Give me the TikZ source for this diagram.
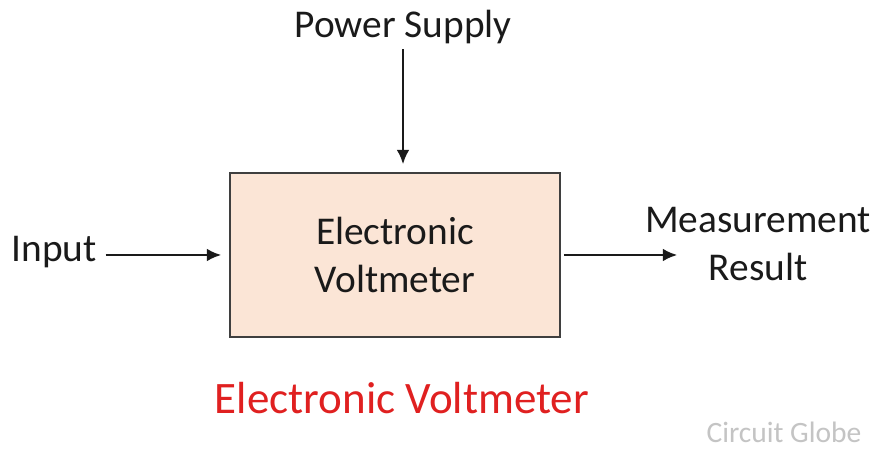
\documentclass[tikz,border=0pt]{standalone}
\usepackage{fontspec}
\setmainfont{Carlito}
\usepackage{tikz}
\usetikzlibrary{arrows.meta,positioning,calc}
\definecolor{boxfill}{HTML}{FBE5D6}
\definecolor{boxline}{HTML}{3F3F3F}
\definecolor{txt}{HTML}{1A1A1A}
\definecolor{titlered}{HTML}{E02020}
\definecolor{wmark}{HTML}{C4C4C4}
\tikzset{
  blockbox/.style={draw=boxline,fill=boxfill,line width=1.1pt,
                   minimum width=8.25cm,minimum height=4.1cm,
                   align=center,text=txt,font=\fontsize{28}{34}\selectfont},
  lbl/.style={text=txt,inner sep=2pt,align=center,
              font=\fontsize{28}{34}\selectfont},
  arrowmain/.style={-{Latex[length=3.6mm,width=3.2mm]},line width=1.6pt,txt},
}
\begin{document}
\begin{tikzpicture}
  \useasboundingbox[fill=white](0,0)rectangle(21.95,11.3);
  % Block
  \node[blockbox](vm)at(9.875,4.925){Electronic\\Voltmeter};
  % Labels
  \node[lbl](ps)at(10.075,10.62){Power Supply};
  \node[lbl](in)at(1.35,5.0){Input};
  \node[lbl](res)at(18.95,5.2){Measurement\\Result};
  \coordinate(outend)at(16.93,4.925);
  % Connectors
  \draw[arrowmain]($(ps.south)+(0,-0.05)$)--($(ps.south|-vm.north)+(0,0.2)$);
  \draw[arrowmain](in.east|-vm.west)++(0.15,0)--($(vm.west)+(-0.2,0)$);
  \draw[arrowmain]($(vm.east)+(0.08,0)$)--(outend);
  % Caption
  \node[text=titlered,font=\fontsize{32}{38}\selectfont](title)at(10.05,1.35){Electronic Voltmeter};
  \node[text=wmark,inner sep=1pt,font=\fontsize{21}{25}\selectfont](mark)at(19.6,0.5){Circuit Globe};
\end{tikzpicture}
\end{document}
